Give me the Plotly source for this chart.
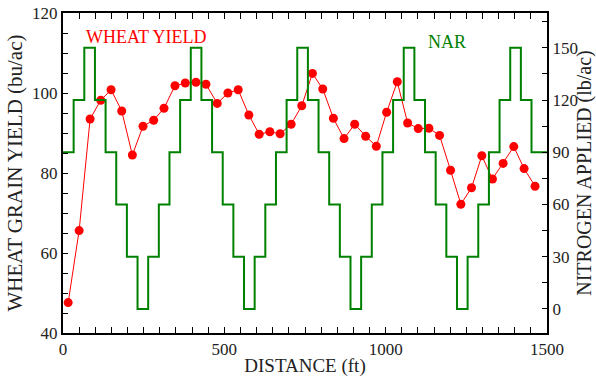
import plotly.graph_objects as go

# Wheat grain yield (bu/ac) vs distance (ft)
yield_dist = [16, 50, 84, 117, 149, 182, 215, 248, 281, 313, 347, 379, 412, 443, 478,
              511, 543, 576, 608, 641, 673, 707, 740, 773, 805, 838, 871, 904, 938, 971,
              1003, 1036, 1068, 1101, 1134, 1167, 1201, 1233, 1266, 1298, 1331, 1364, 1397, 1429, 1463]
yield_vals = [47.6, 65.6, 93.5, 98.2, 100.8, 95.5, 84.5, 91.7, 93.2, 96.2, 101.8, 102.5, 102.7, 102.2, 97.4,
              100.0, 100.8, 94.5, 89.7, 90.3, 89.8, 92.2, 96.8, 104.9, 101.0, 93.7, 88.6, 92.2, 89.2, 86.7,
              95.2, 102.8, 92.5, 91.1, 91.2, 89.4, 80.7, 72.2, 76.3, 84.3, 78.5, 82.4, 86.6, 81.1, 76.7]

# Nitrogen applied rate (lb/ac): step starts (ft) and levels
nar_dist = [0, 33, 66, 99, 132, 165, 198, 231, 264, 297, 330, 363, 396, 429, 462,
            495, 528, 561, 594, 627, 660, 693, 726, 759, 792, 825, 858, 891, 924, 957,
            990, 1023, 1056, 1089, 1122, 1155, 1188, 1221, 1254, 1287, 1320, 1353, 1386, 1419, 1452, 1500]
nar_vals = [90, 120, 150, 120, 90, 60, 30, 0, 30, 60, 90, 120, 150, 120, 90,
            60, 30, 0, 30, 60, 90, 120, 150, 120, 90, 60, 30, 0, 30, 60,
            90, 120, 150, 120, 90, 60, 30, 0, 30, 60, 90, 120, 150, 120, 90, 90]

FONT = "Liberation Serif"
RED = "#ff0000"
GREEN = "#008000"
INK = "#222222"

fig = go.Figure()
fig.add_trace(go.Scatter(x=nar_dist, y=nar_vals, mode="lines", line=dict(color=GREEN, width=2, shape="hv"),
                         yaxis="y2", showlegend=False))
fig.add_trace(go.Scatter(x=yield_dist, y=yield_vals, mode="lines+markers",
                         line=dict(color=RED, width=1), marker=dict(color=RED, size=9),
                         showlegend=False))

tickfont = dict(family=FONT, size=17, color=INK)
L, R, T, B = 63, 49, 13, 46
W, H = 596, 379
pw, ph = W - L - R, H - T - B


def px_to_paper(x, y):
    return (x - L) / pw, 1 - (y - T) / ph


wx, wy = px_to_paper(146, 37)
nx, ny = px_to_paper(447, 42)

fig.update_layout(
    template="none",
    width=W, height=H,
    margin=dict(l=L, r=R, t=T, b=B, autoexpand=False),
    paper_bgcolor="white", plot_bgcolor="white",
    font=dict(family=FONT, size=16, color=INK),
    xaxis=dict(range=[0, 1500], tickvals=[0, 500, 1000, 1500], ticks="inside", ticklen=6, tickwidth=1,
               tickcolor="black", showline=True, linecolor="black", linewidth=2, mirror="allticks",
               showgrid=False, zeroline=False, tickfont=tickfont, automargin=False,
               minor=dict(dtick=50, ticks="inside", ticklen=3, tickcolor="black", showgrid=False),
               title=dict(text="DISTANCE (ft)", font=dict(family=FONT, size=19, color=INK), standoff=0)),
    yaxis=dict(range=[40, 120], tickvals=[40, 60, 80, 100, 120], ticks="inside", ticklen=5,
               tickcolor="black", showline=True, linecolor="black", linewidth=2, automargin=False,
               showgrid=False, zeroline=False, tickfont=tickfont,
               minor=dict(dtick=5, ticks="inside", ticklen=5, tickcolor="black", showgrid=False),
               title=dict(text="WHEAT GRAIN YIELD (bu/ac)", font=dict(family=FONT, size=21, color=INK), standoff=4)),
    yaxis2=dict(range=[-13.8, 170], overlaying="y", side="right", tickvals=[0, 30, 60, 90, 120, 150],
                ticks="inside", ticklen=5, tickcolor="black", showline=True, linecolor="black", linewidth=2,
                showgrid=False, zeroline=False, tickfont=tickfont, automargin=False,
                minor=dict(dtick=15, tick0=0, ticks="inside", ticklen=5, tickcolor="black", showgrid=False),
                title=dict(text="NITROGEN APPLIED (lb/ac)", font=dict(family=FONT, size=20, color=INK), standoff=4)),
    annotations=[
        dict(text="WHEAT YIELD", x=wx, y=wy, xref="paper", yref="paper", showarrow=False,
             xanchor="center", yanchor="middle", font=dict(family=FONT, size=18, color=RED)),
        dict(text="NAR", x=nx, y=ny, xref="paper", yref="paper", showarrow=False,
             xanchor="center", yanchor="middle", font=dict(family=FONT, size=18, color=GREEN)),
    ],
)

fig.write_html("out.html", config={"displayModeBar": False},
               post_script="document.body.style.margin='0';")
